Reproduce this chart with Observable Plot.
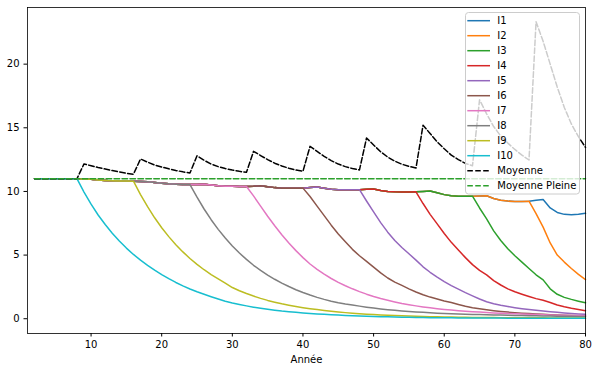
<!DOCTYPE html>
<html>
<head>
<meta charset="utf-8">
<script src="https://cdn.jsdelivr.net/npm/d3@7"></script>
<script src="https://cdn.jsdelivr.net/npm/@observablehq/plot@0.6"></script>
<style>
  html, body { margin: 0; padding: 0; background: white; }
  #wrap { position: relative; width: 598px; height: 371px; font-family: "DejaVu Sans", sans-serif; }
  #legend { position: absolute; left: 465px; top: 12px; }
</style>
</head>
<body>
<div id="wrap"></div>
<script>
// ---- Data ----
const years = d3.range(2, 81); // 2..80
const xTicks = [10, 20, 30, 40, 50, 60, 70, 80];
const yTicks = [0, 5, 10, 15, 20];
const seriesNames = ["I1", "I2", "I3", "I4", "I5", "I6", "I7", "I8", "I9", "I10"];
const seriesColors = ["#1f77b4", "#ff7f0e", "#2ca02c", "#d62728", "#9467bd", "#8c564b", "#e377c2", "#7f7f7f", "#bcbd22", "#17becf"];
// year at which each individual starts to decline (I1 never does)
const declineStart = [null, 72, 64, 56, 48, 40, 32, 24, 16, 8];

// level of the individuals that have not started declining (years 2..80); I1 follows it throughout
const plateau = [
  11, 11, 11, 11, 11, 11, 11,
  10.98, 10.95, 10.9, 10.86, 10.83, 10.82, 10.82, 10.81,
  10.79, 10.76, 10.71, 10.65, 10.6, 10.57, 10.55, 10.54,
  10.55, 10.57, 10.51, 10.45, 10.41, 10.4, 10.39, 10.39,
  10.41, 10.45, 10.37, 10.3, 10.26, 10.25, 10.25, 10.26,
  10.3, 10.34, 10.25, 10.17, 10.14, 10.13, 10.13, 10.14,
  10.17, 10.19, 10.08, 10.0, 9.97, 9.96, 9.96, 9.97,
  10.0, 10.04, 9.9, 9.75, 9.67, 9.63, 9.62, 9.63,
  9.65, 9.66, 9.44, 9.3, 9.24, 9.21, 9.21, 9.23,
  9.3, 9.36, 8.7, 8.35, 8.2, 8.17, 8.2, 8.28
];

// values after the start of decline (from start+1 to 80)
const declineI2 = [8.25, 7.2, 5.95, 5.0, 4.45, 3.95, 3.48, 3.07];
const declineI3 = [
  8.7, 7.85, 6.9, 6.15, 5.5, 4.95, 4.45, 3.95,
  3.45, 3.05, 2.35, 1.92, 1.68, 1.52, 1.38, 1.25
];
const declineI4 = [
  9.05, 8.2, 7.45, 6.7, 6.0, 5.4, 4.8, 4.25,
  3.8, 3.45, 3.0, 2.65, 2.35, 2.12, 1.93, 1.75,
  1.58, 1.45, 1.28, 1.08, 0.94, 0.82, 0.72, 0.63
];
const declineI5 = [
  9.25, 8.4, 7.55, 6.8, 6.15, 5.6, 5.1, 4.6,
  4.08, 3.65, 3.27, 2.92, 2.6, 2.32, 2.05, 1.8,
  1.55, 1.33, 1.18, 1.06, 0.96, 0.87, 0.79, 0.72,
  0.66, 0.6, 0.55, 0.5, 0.46, 0.42, 0.38, 0.35
];
const declineI6 = [
  9.6, 8.85, 8.1, 7.35, 6.65, 6.05, 5.45, 4.95,
  4.5, 4.05, 3.6, 3.2, 2.88, 2.62, 2.35, 2.1,
  1.88, 1.7, 1.55, 1.4, 1.27, 1.12, 0.98, 0.87,
  0.78, 0.7, 0.63, 0.57, 0.52, 0.48, 0.44, 0.41,
  0.38, 0.35, 0.32, 0.29, 0.27, 0.25, 0.23, 0.21
];
const declineI7 = [
  9.65, 8.85, 8.05, 7.3, 6.6, 5.95, 5.35, 4.8,
  4.3, 3.88, 3.5, 3.16, 2.86, 2.59, 2.35, 2.13,
  1.93, 1.75, 1.59, 1.45, 1.32, 1.2, 1.1, 1.01,
  0.93, 0.86, 0.79, 0.73, 0.68, 0.63, 0.59, 0.55,
  0.52, 0.49, 0.46, 0.43, 0.41, 0.39, 0.37, 0.35,
  0.33, 0.31, 0.3, 0.28, 0.27, 0.26, 0.25, 0.24
];
const declineI8 = [
  9.55, 8.62, 7.78, 7.02, 6.34, 5.72, 5.16, 4.66,
  4.2, 3.8, 3.43, 3.1, 2.8, 2.53, 2.28, 2.06,
  1.86, 1.68, 1.52, 1.38, 1.26, 1.16, 1.08, 0.99,
  0.91, 0.84, 0.77, 0.71, 0.66, 0.61, 0.57, 0.53,
  0.5, 0.47, 0.44, 0.42, 0.4, 0.38, 0.36, 0.34,
  0.33, 0.31, 0.3, 0.29, 0.27, 0.26, 0.25, 0.24,
  0.23, 0.22, 0.21, 0.2, 0.19, 0.19, 0.18, 0.18
];
const declineI9 = [
  9.75, 8.8, 7.93, 7.15, 6.45, 5.82, 5.25, 4.73,
  4.27, 3.85, 3.47, 3.13, 2.8, 2.45, 2.2, 1.98,
  1.78, 1.6, 1.44, 1.3, 1.17, 1.06, 0.96, 0.87,
  0.79, 0.72, 0.65, 0.59, 0.53, 0.48, 0.44, 0.4,
  0.36, 0.33, 0.3, 0.27, 0.25, 0.23, 0.21, 0.19,
  0.17, 0.16, 0.15, 0.14, 0.13, 0.12, 0.11, 0.1,
  0.1, 0.09, 0.09, 0.08, 0.08, 0.08, 0.07, 0.07,
  0.07, 0.07, 0.06, 0.06, 0.06, 0.06, 0.06, 0.06
];
const declineI10 = [
  9.95, 9.0, 8.15, 7.4, 6.72, 6.1, 5.55, 5.05,
  4.6, 4.2, 3.82, 3.47, 3.15, 2.85, 2.58, 2.34,
  2.12, 1.92, 1.73, 1.55, 1.38, 1.24, 1.12, 1.01,
  0.91, 0.82, 0.74, 0.67, 0.6, 0.55, 0.5, 0.46,
  0.42, 0.38, 0.35, 0.32, 0.29, 0.26, 0.24, 0.22,
  0.2, 0.18, 0.16, 0.15, 0.13, 0.12, 0.11, 0.1,
  0.09, 0.08, 0.08, 0.07, 0.07, 0.06, 0.06, 0.06,
  0.05, 0.05, 0.05, 0.05, 0.04, 0.04, 0.04, 0.04,
  0.04, 0.04, 0.03, 0.03, 0.03, 0.03, 0.03, 0.03
];
const declines = [null, declineI2, declineI3, declineI4, declineI5, declineI6, declineI7, declineI8, declineI9, declineI10];

// "Moyenne" (years 2..80)
const moyenne = [
  11, 11, 11, 11, 11, 11, 11,
  12.16, 12.02, 11.88, 11.76, 11.64, 11.53, 11.43, 11.35,
  12.55, 12.3, 12.08, 11.92, 11.78, 11.65, 11.54, 11.45,
  12.8, 12.45, 12.15, 11.95, 11.8, 11.68, 11.58, 11.5,
  13.15, 12.82, 12.5, 12.22, 12.0, 11.82, 11.68, 11.58,
  13.54, 13.15, 12.75, 12.42, 12.15, 11.95, 11.8, 11.69,
  14.2, 13.65, 13.12, 12.7, 12.38, 12.14, 11.97, 11.84,
  15.2, 14.55, 13.9, 13.35, 12.85, 12.5, 12.2, 12.02,
  17.2, 16.1, 15.1, 14.35, 13.8, 13.3, 12.85, 12.47,
  23.34, 21.8, 20.0, 18.2, 16.6, 15.3, 14.3, 13.46
];
// "Moyenne Pleine" constant level
const moyennePleine = 11;

// ---- Build tables ----
function seriesValues(k) {
  const start = declineStart[k];
  if (start === null) return plateau.slice();
  return years.map((yr, i) => yr <= start ? plateau[i] : declines[k][yr - start - 1]);
}
const tables = seriesNames.map((name, k) => {
  const vals = seriesValues(k);
  return years.map((yr, i) => ({year: yr, value: vals[i]}));
});
const moyenneTable = years.map((yr, i) => ({year: yr, value: moyenne[i]}));
const pleineTable = years.map(yr => ({year: yr, value: moyennePleine}));

const dash = "5.55,2.4";

const marks = tables.map((t, k) => Plot.line(t, {x: "year", y: "value", stroke: seriesColors[k], strokeWidth: 1.5}));
marks.push(Plot.line(moyenneTable, {x: "year", y: "value", stroke: "black", strokeWidth: 1.5, strokeDasharray: dash}));
marks.push(Plot.line(pleineTable, {x: "year", y: "value", stroke: "#2ca02c", strokeWidth: 1.5, strokeDasharray: dash}));
marks.push(Plot.frame({stroke: "black", strokeWidth: 0.8}));

const chart = Plot.plot({
  width: 598,
  height: 371,
  marginLeft: 27,
  marginRight: 13,
  marginTop: 7,
  marginBottom: 38,
  style: {fontFamily: "DejaVu Sans", fontSize: "10px", background: "white", color: "black"},
  x: {domain: [1, 80], ticks: xTicks, tickSize: 3.5, tickPadding: 3.5, label: "Année", labelAnchor: "center", labelArrow: "none", labelOffset: 29},
  y: {domain: [-1.16, 24.45], ticks: yTicks, tickSize: 3.5, tickPadding: 4.5, label: null},
  marks
});
document.getElementById("wrap").appendChild(chart);

// ---- Legend (overlay, semi-transparent like matplotlib's) ----
const legendNames = [...seriesNames, "Moyenne", "Moyenne Pleine"];
const legendColors = [...seriesColors, "black", "#2ca02c"];
const legendDash = [...seriesNames.map(() => null), dash, dash];
const lw = 116, lh = 183;
const leg = d3.create("svg").attr("id", "legend").attr("width", lw).attr("height", lh)
  .style("font-family", "DejaVu Sans").style("font-size", "10px");
leg.append("rect").attr("x", 0.5).attr("y", 0.5).attr("width", lw - 2).attr("height", lh - 1.5)
  .attr("rx", 3).attr("fill", "white").attr("fill-opacity", 0.8).attr("stroke", "#cccccc").attr("stroke-width", 1);
legendNames.forEach((name, i) => {
  const cy = 8.7 + i * 15;
  leg.append("line").attr("x1", 2.3).attr("x2", 25).attr("y1", cy).attr("y2", cy)
    .attr("stroke", legendColors[i]).attr("stroke-width", 1.5)
    .attr("stroke-dasharray", legendDash[i]);
  leg.append("text").attr("x", 32.3).attr("y", cy).attr("dy", "0.36em").attr("fill", "black").text(name);
});
document.getElementById("wrap").appendChild(leg.node());
</script>
</body>
</html>
